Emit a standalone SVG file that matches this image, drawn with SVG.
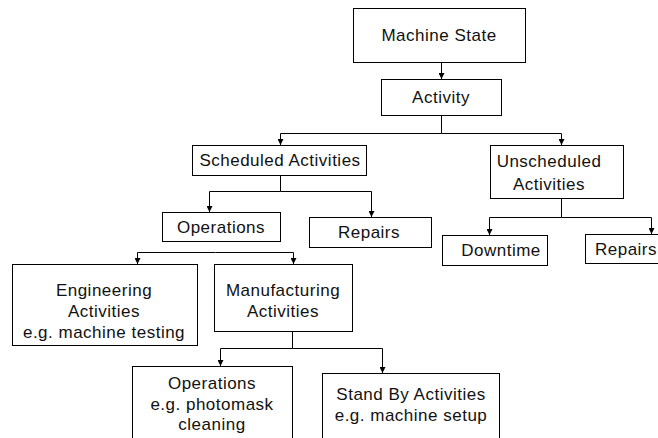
<svg xmlns="http://www.w3.org/2000/svg" width="658" height="438" viewBox="0 0 658 438">
<style>
  .box { fill: #fff; stroke: #000; stroke-width: 1; }
  .lbl { font-family: "Liberation Sans", Arial, sans-serif; font-size: 17px; letter-spacing: 0.5px; fill: #111; text-anchor: middle; }
  .con { fill: none; stroke: #000; stroke-width: 1; }
</style>
<defs>
  <marker id="ah" markerWidth="6" markerHeight="6" refX="6" refY="3" orient="auto" markerUnits="userSpaceOnUse">
    <path d="M0,0 L6,3 L0,6 Z" fill="#000"/>
  </marker>
</defs>
<rect width="658" height="438" fill="#fff"/>
<g id="connectors">
  <path class="con" d="M441.5,62 V79" marker-end="url(#ah)"/>
  <path class="con" d="M441.5,116 V133.5 H280.5 V145" marker-end="url(#ah)"/>
  <path class="con" d="M441.5,133.5 H561.5 V145" marker-end="url(#ah)"/>
  <path class="con" d="M280.5,175 V191.5 H209.5 V212" marker-end="url(#ah)"/>
  <path class="con" d="M280.5,191.5 H371.5 V217" marker-end="url(#ah)"/>
  <path class="con" d="M561.5,198 V217.5 H489.5 V235" marker-end="url(#ah)"/>
  <path class="con" d="M561.5,217.5 H651.5 V234" marker-end="url(#ah)"/>
  <path class="con" d="M215.5,252.5 H137.5 V264" marker-end="url(#ah)"/>
  <path class="con" d="M215.5,252.5 H293.5 V264" marker-end="url(#ah)"/>
  <path class="con" d="M292.5,331 V348.5 H220.5 V366" marker-end="url(#ah)"/>
  <path class="con" d="M292.5,348.5 H382.5 V373" marker-end="url(#ah)"/>
</g>
<g id="machine-state">
  <rect class="box" x="353.5" y="8.5" width="172" height="54"/>
  <text class="lbl" x="439" y="41">Machine State</text>
</g>
<g id="activity">
  <rect class="box" x="381.5" y="79.5" width="120" height="36"/>
  <text class="lbl" x="441" y="103">Activity</text>
</g>
<g id="scheduled">
  <rect class="box" x="192.5" y="145.5" width="174" height="30"/>
  <text class="lbl" x="280" y="166">Scheduled Activities</text>
</g>
<g id="unscheduled">
  <rect class="box" x="490.5" y="145.5" width="133" height="53"/>
  <text class="lbl" x="549" y="167">Unscheduled</text>
  <text class="lbl" x="549" y="190">Activities</text>
</g>
<g id="operations">
  <rect class="box" x="162.5" y="212.5" width="118" height="29"/>
  <text class="lbl" x="221" y="233">Operations</text>
</g>
<g id="repairs-scheduled">
  <rect class="box" x="309.5" y="217.5" width="122" height="30"/>
  <text class="lbl" x="369" y="238">Repairs</text>
</g>
<g id="downtime">
  <rect class="box" x="442.5" y="235.5" width="105" height="30"/>
  <text class="lbl" x="501" y="256">Downtime</text>
</g>
<g id="repairs-unscheduled">
  <rect class="box" x="585.5" y="234.5" width="80" height="29"/>
  <text class="lbl" x="626" y="255">Repairs</text>
</g>
<g id="engineering">
  <rect class="box" x="12.5" y="264.5" width="185" height="81"/>
  <text class="lbl" x="104" y="296">Engineering</text>
  <text class="lbl" x="104" y="317">Activities</text>
  <text class="lbl" x="104" y="338">e.g. machine testing</text>
</g>
<g id="manufacturing">
  <rect class="box" x="214.5" y="264.5" width="138" height="67"/>
  <text class="lbl" x="283" y="296">Manufacturing</text>
  <text class="lbl" x="283" y="317">Activities</text>
</g>
<g id="operations-photomask">
  <rect class="box" x="132.5" y="366.5" width="160" height="80"/>
  <text class="lbl" x="212" y="389">Operations</text>
  <text class="lbl" x="212" y="410">e.g. photomask</text>
  <text class="lbl" x="212" y="430">cleaning</text>
</g>
<g id="standby">
  <rect class="box" x="322.5" y="373.5" width="177" height="73"/>
  <text class="lbl" x="411" y="400">Stand By Activities</text>
  <text class="lbl" x="411" y="421">e.g. machine setup</text>
</g>
</svg>
